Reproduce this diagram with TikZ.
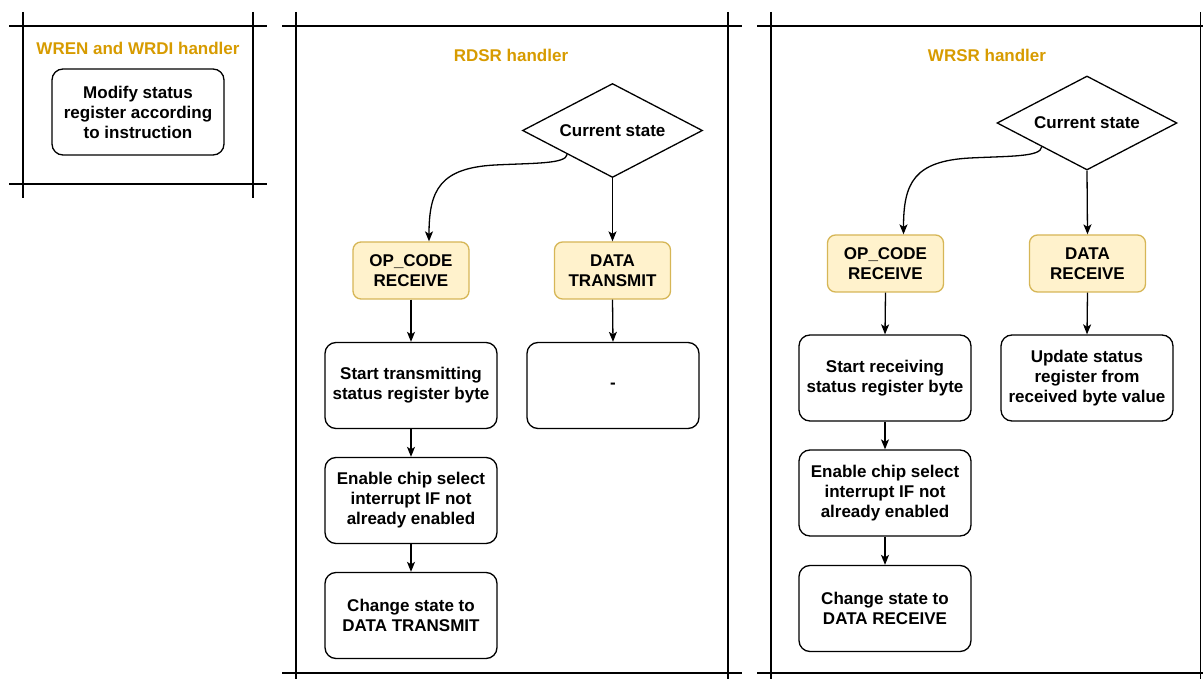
\documentclass[tikz,border=0pt]{standalone}
\usepackage{fontspec}
\setmainfont{Liberation Sans}
\usetikzlibrary{shapes.geometric,arrows.meta}
\definecolor{ttl}{HTML}{D79B00}
\definecolor{yfill}{HTML}{FFF2CC}
\definecolor{ydraw}{HTML}{D6B656}
\begin{document}
\begin{tikzpicture}[x=1pt,y=-1pt,
  every node/.style={font=\fontsize{17}{20}\selectfont\bfseries, align=center, inner sep=0pt},
  box/.style={draw=black, line width=1.3pt, rounded corners=11pt, minimum width=172pt, minimum height=86pt},
  ybox/.style={draw=ydraw, fill=yfill, line width=1.3pt, rounded corners=8pt, minimum width=116pt, minimum height=57pt},
  dec/.style={draw=black, diamond, aspect=1.9, line width=1.3pt, minimum width=180pt, minimum height=94pt},
  ttlnode/.style={text=ttl},
  frameline/.style={line width=1.3pt},
  arr/.style={-{Stealth[length=10pt,width=8pt,inset=2.5pt]}, line width=1.3pt}]
\useasboundingbox (0,0) rectangle (1203,679);
% frames
\draw[frameline] (9,26) -- (267,26);
\draw[frameline] (9,184) -- (267,184);
\draw[frameline] (23,12) -- (23,198);
\draw[frameline] (253,12) -- (253,198);
\draw[frameline] (282,26) -- (742,26);
\draw[frameline] (282,673) -- (742,673);
\draw[frameline] (296,12) -- (296,679);
\draw[frameline] (728,12) -- (728,679);
\draw[frameline] (757,26) -- (1203,26);
\draw[frameline] (757,673) -- (1203,673);
\draw[frameline] (771,12) -- (771,679);
\draw[frameline] (1200.5,12) -- (1200.5,679);
% titles
\node[ttlnode] (t1) at (138,48) {WREN and WRDI handler};
\node[ttlnode] (t2) at (511,55) {RDSR handler};
\node[ttlnode] (t3) at (987,55) {WRSR handler};
% left frame
\node[box] (mod) at (138,112) {Modify status\\register according\\to instruction};
% RDSR
\node[dec] (d1) at (612.5,130.5) {Current state};
\node[ybox] (oc1) at (411,270.5) {OP\_CODE\\RECEIVE};
\node[ybox] (dt) at (612.5,270.5) {DATA\\TRANSMIT};
\node[box] (st1) at (411,385.5) {Start transmitting\\status register byte};
\node[box] (dash) at (613,385.5) {-};
\node[box] (en1) at (411,500.5) {Enable chip select\\interrupt IF not\\already enabled};
\node[box] (ch1) at (411,615.5) {Change state to\\DATA TRANSMIT};
\draw[arr] (d1.south west) .. controls (566,164) and (535,163) .. (495,165) .. controls (440,168) and (429,190) .. ([xshift=18pt]oc1.north);
\draw[arr] (d1.south) -- (dt.north);
\draw[arr] (oc1.south) -- (st1.north);
\draw[arr] (dt.south) -- (dash.north);
\draw[arr] (st1.south) -- (en1.north);
\draw[arr] (en1.south) -- (ch1.north);
% WRSR
\node[dec] (d2) at (1087,123) {Current state};
\node[ybox] (oc2) at (885.5,263.5) {OP\_CODE\\RECEIVE};
\node[ybox] (dr) at (1087.5,263.5) {DATA\\RECEIVE};
\node[box] (st2) at (885,378) {Start receiving\\status register byte};
\node[box] (up) at (1087,378) {Update status\\register from\\received byte value};
\node[box] (en2) at (885,493) {Enable chip select\\interrupt IF not\\already enabled};
\node[box] (ch2) at (885,608.5) {Change state to\\DATA RECEIVE};
\draw[arr] (d2.south west) .. controls (1041,157) and (1010,156) .. (970,158) .. controls (914,161) and (903.5,183) .. ([xshift=18pt]oc2.north);
\draw[arr] (d2.south) -- (dr.north);
\draw[arr] (oc2.south) -- (st2.north);
\draw[arr] (dr.south) -- (up.north);
\draw[arr] (st2.south) -- (en2.north);
\draw[arr] (en2.south) -- (ch2.north);
\end{tikzpicture}
\end{document}
